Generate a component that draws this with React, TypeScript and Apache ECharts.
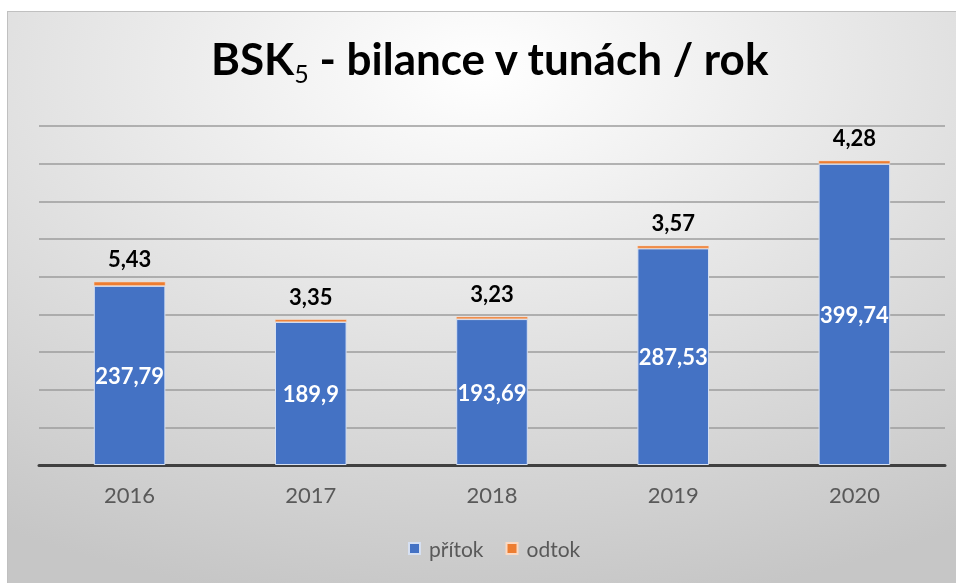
import React, { useEffect, useRef } from "react";
import * as echarts from "echarts";

const categories = ["2016", "2017", "2018", "2019", "2020"];
const pritok = [237.79, 189.9, 193.69, 287.53, 399.74];
const odtok = [5.43, 3.35, 3.23, 3.57, 4.28];
const seriesNames = ["přítok", "odtok"];

const fmt = (v: number) => String(v).replace(".", ",");

export default function App() {
  const ref = useRef<HTMLDivElement>(null);
  useEffect(() => {
    if (!ref.current) return;
    const chart = echarts.init(ref.current, null, { renderer: "svg" });
    chart.setOption({
      animation: false,
      backgroundColor: {
        type: "radial",
        x: 0.5,
        y: 0.1,
        r: 0.95,
        colorStops: [
          { offset: 0, color: "#ffffff" },
          { offset: 1, color: "#c6c6c6" },
        ],
      },
      title: {
        text: "BSK{sub|5} - bilance v tunách / rok",
        left: 198,
        top: 19,
        textStyle: {
          fontFamily: "Lato",
          fontWeight: "bold",
          fontSize: 44,
          lineHeight: 44,
          color: "#000000",
          rich: {
            sub: {
              fontFamily: "Lato",
              fontWeight: "normal",
              fontSize: 25,
              lineHeight: 25,
              color: "#000000",
              verticalAlign: "top",
              padding: [24, 0, 0, 0],
            },
          },
        },
      },
      legend: {
        bottom: 19,
        left: 395,
        icon: "rect",
        itemWidth: 11,
        itemHeight: 11,
        itemGap: 22,
        data: seriesNames,
        textStyle: {
          fontFamily: "Lato",
          fontSize: 21,
          color: "#595959",
          padding: [0, 0, 0, 4],
        },
      },
      grid: { left: 31, right: 11, top: 114, bottom: 118 },
      xAxis: {
        type: "category",
        data: categories,
        axisLine: { lineStyle: { color: "#404040", width: 3 } },
        axisTick: { show: false },
        axisLabel: {
          fontFamily: "Lato",
          fontSize: 22,
          color: "#595959",
          margin: 18,
        },
      },
      yAxis: {
        type: "value",
        min: 0,
        max: 450,
        interval: 50,
        axisLabel: { show: false },
        axisLine: { show: false },
        axisTick: { show: false },
        splitLine: { lineStyle: { color: "#9c9c9c", width: 1.6 } },
      },
      series: [
        {
          name: seriesNames[0],
          type: "bar",
          stack: "a",
          data: pritok,
          barWidth: "39.5%",
          itemStyle: { color: "#4472C4", borderColor: "#d6e0f2", borderWidth: 1 },
          label: {
            show: true,
            position: "inside",
            formatter: (p: any) => fmt(p.value),
            fontFamily: "Lato",
            fontWeight: "bold",
            fontSize: 22,
            color: "#ffffff",
          },
        },
        {
          name: seriesNames[1],
          type: "bar",
          stack: "a",
          data: odtok,
          itemStyle: { color: "#ED7D31", borderColor: "#fbd9c2", borderWidth: 0.5 },
          label: {
            show: true,
            position: "top",
            distance: 12,
            formatter: (p: any) => fmt(p.value),
            fontFamily: "Lato",
            fontWeight: "bold",
            fontSize: 22,
            color: "#000000",
          },
        },
      ],
    });
    return () => chart.dispose();
  }, []);
  return (
    <div
      ref={ref}
      style={{
        position: "fixed",
        left: 7,
        top: 11,
        width: 949,
        height: 572,
        boxSizing: "border-box",
        borderTop: "1px solid #c0c0c0",
        borderLeft: "1px solid #c0c0c0",
      }}
    />
  );
}
